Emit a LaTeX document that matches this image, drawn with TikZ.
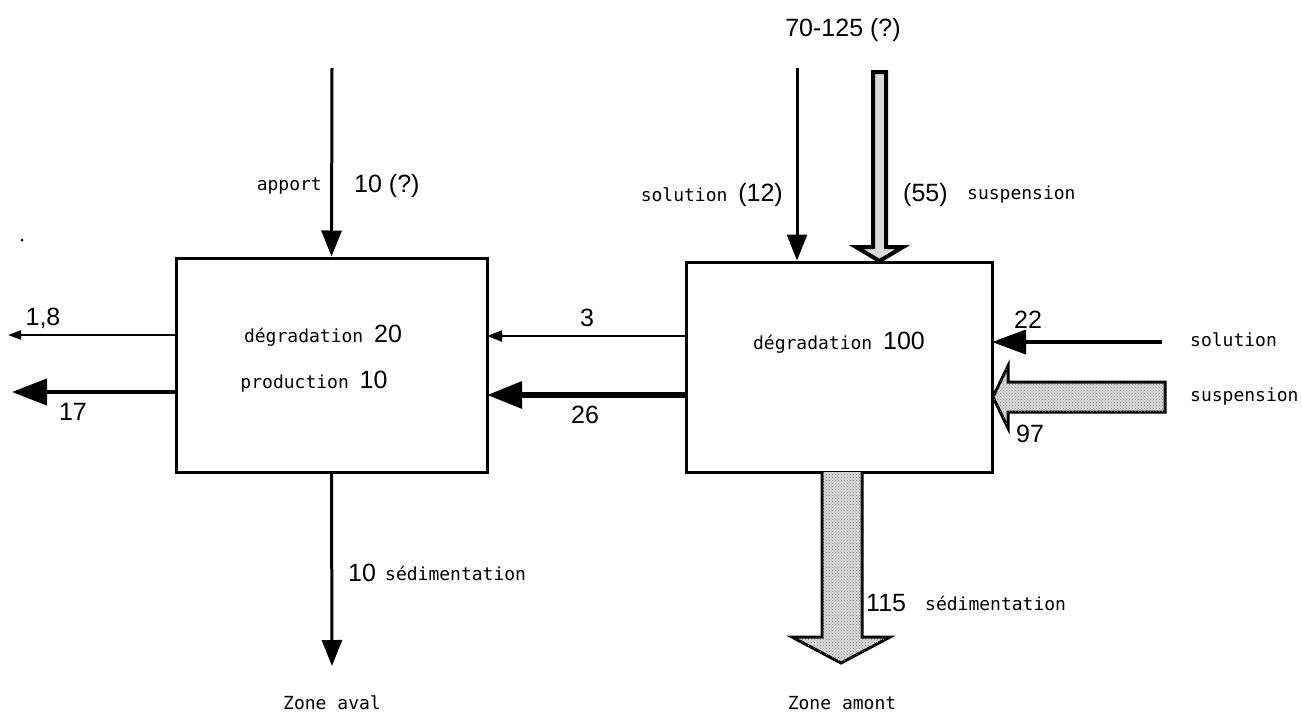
\documentclass[tikz,border=0pt]{standalone}
\usepackage{fontspec}
\setmainfont{Liberation Sans}
\newfontfamily\monof{DejaVu Sans Mono}
\usetikzlibrary{arrows.meta,patterns}
\tikzset{
  mono/.style={font=\monof\fontsize{18}{20}\selectfont, inner sep=0pt},
  num/.style={font=\fontsize{25}{28}\selectfont, inner sep=0pt},
  boxs/.style={draw, line width=3pt, inner sep=0pt},
  flowA/.style={line width=3pt, -{Triangle[length=26pt,width=20pt]}},
  thinA/.style={line width=2pt, -{Triangle[length=13pt,width=9pt]}},
  thickA/.style={line width=5pt, -{Triangle[length=35pt,width=26pt]}},
  bigA/.style={draw, line width=3pt, fill=gray!30, line join=miter},
  speck/.style={pattern=crosshatch dots, pattern color=black!45}
}
\newcommand{\nm}[1]{{\rmfamily\fontsize{25}{28}\selectfont #1}}
\begin{document}
\begin{tikzpicture}[x=1pt,y=-1pt]
\useasboundingbox (0,0) rectangle (1302,716);
% boxes
\node[boxs, minimum width=311pt, minimum height=214pt] (L) at (331.5,365) {};
\node[boxs, minimum width=306pt, minimum height=210pt] (R) at (839,367) {};
% coordinates
\coordinate (topL) at (332,68);
\coordinate (topR) at (797,68);
\coordinate (botL) at (332,666);
\coordinate (o18) at (8,335);
\coordinate (o17) at (12,392);
\coordinate (i22) at (1162,342);
\coordinate (Lin3) at (487,336);
\coordinate (Rout3) at (686,336);
\coordinate (Lin26) at (487,395);
\coordinate (Rout26) at (686,395);
\coordinate (Lo18) at (176,335);
\coordinate (Lo17) at (176,392);
\coordinate (Ri22) at (992,342);
% thin arrows
\draw[flowA] (topL) -- (L.north);
\draw[flowA] (L.south) -- (botL);
\draw[flowA] (topR) -- (topR |- R.north);
\draw[thinA] (Lo18) -- (o18);
\draw[thickA, line width=4pt] (Lo17) -- (o17);
\draw[thinA, -{Triangle[length=15pt,width=11pt]}] (Rout3) -- (Lin3);
\draw[thickA, line width=6pt] (Rout26) -- (Lin26);
\draw[thickA, line width=4pt, -{Triangle[length=34pt,width=24pt]}] (i22) -- (Ri22);
% wide stippled arrows
\draw[bigA] (1165,382) -- (1008,382) -- (1008,366) -- (993,397) -- (1008,428) -- (1008,412) -- (1165,412) -- cycle;
\fill[speck] (1165,382) -- (1008,382) -- (1008,366) -- (993,397) -- (1008,428) -- (1008,412) -- (1165,412) -- cycle;
\draw[bigA] (822,472) -- (822,637) -- (792,637) -- (841,663) -- (890,637) -- (862,637) -- (862,472);
\fill[speck] (822,472) -- (822,637) -- (792,637) -- (841,663) -- (890,637) -- (862,637) -- (862,472) -- cycle;
\draw[bigA, line width=4pt] (873,72) -- (873,247) -- (856,247) -- (879.5,261) -- (903,247) -- (886,247) -- (886,72) -- cycle;
% texts
\node[num] (t70) at (843,30) {70-125 (?)};
\node[mono, anchor=east] (tapp) at (322,186) {apport};
\node[num, anchor=west] (t10q) at (354,186) {10 (?)};
\node[mono, anchor=east] (tsol12) at (783,195) {solution \nm{(12)}};
\node[num, anchor=west] (t55) at (903,195) {(55)};
\node[mono, anchor=west] (tsusp1) at (967,195) {suspension};
\node[mono] (tdeg20) at (323,336) {dégradation \nm{20}};
\node[mono] (tprod) at (314,382) {production \nm{10}};
\node[mono] (tdeg100) at (839,343) {dégradation \nm{100}};
\node[num] (t18) at (43,318) {1,8};
\node[num] (t17) at (73,412) {17};
\node[num] (t3) at (587,318) {3};
\node[num] (t26) at (585,415) {26};
\node[num] (t22) at (1028,320) {22};
\node[num] (t97) at (1030,434) {97};
\node[mono, anchor=west] (tsol) at (1190,340) {solution};
\node[mono, anchor=west] (tsusp) at (1190,397) {suspension};
\node[num, anchor=west] (t10s) at (348,573) {10};
\node[mono, anchor=west] (tsed1) at (385,573) {sédimentation};
\node[num, anchor=west] (t115) at (866,603) {115};
\node[mono, anchor=west] (tsed2) at (925,603) {sédimentation};
\node[mono] (zav) at (332,703) {Zone aval};
\node[mono] (zam) at (842,703) {Zone amont};
\fill (22,240) circle (1.5pt);
\end{tikzpicture}
\end{document}
